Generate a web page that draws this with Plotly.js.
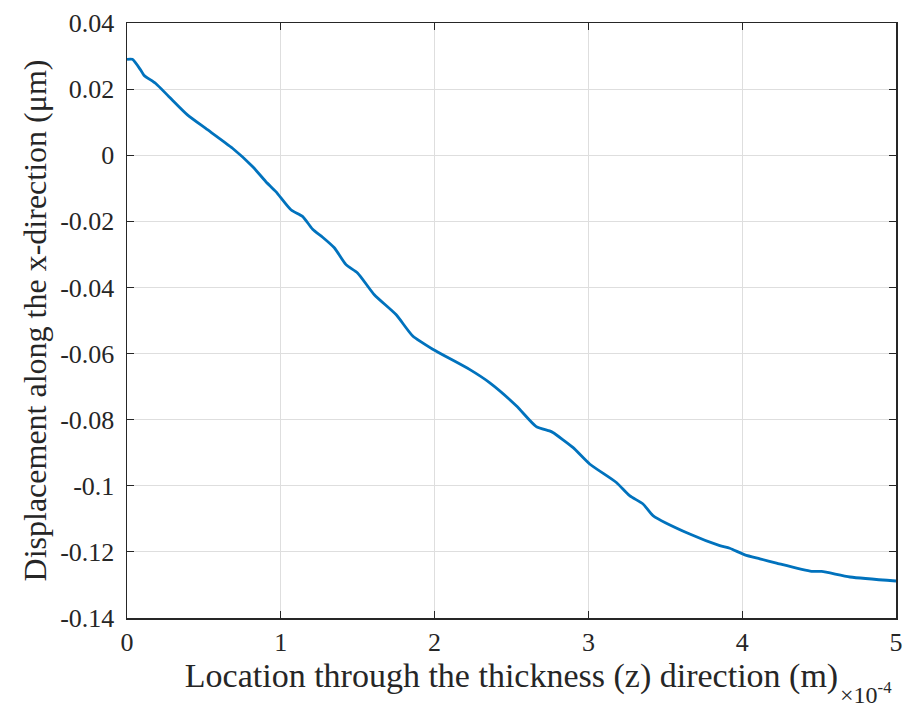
<!DOCTYPE html>
<html>
<head>
<meta charset="utf-8">
<script src="https://cdn.plot.ly/plotly-3.0.1.min.js"></script>
<style>html,body{margin:0;padding:0;background:#fff;}#chart{width:913px;height:709px;}</style>
</head>
<body>
<div id="chart"></div>
<script>
// Location through thickness, in units of 1e-4 m
const zLoc = [0, 0.035, 0.09, 0.11, 0.187, 0.273, 0.393, 0.512, 0.686, 0.816, 0.903, 0.968, 1.066, 1.141, 1.207, 1.272, 1.348, 1.424, 1.499, 1.608, 1.749, 1.858, 1.988, 2.227, 2.357, 2.531, 2.661, 2.747, 2.769, 2.899, 3.008, 3.182, 3.268, 3.355, 3.42, 3.659, 3.854, 3.919, 4.017, 4.115, 4.223, 4.451, 4.516, 4.701, 5.0];
// Displacement along x (um)
const dispX = [0.029, 0.029, 0.0257, 0.0242, 0.0217, 0.0177, 0.0122, 0.0081, 0.0021, -0.0034, -0.008, -0.011, -0.0165, -0.0185, -0.0224, -0.0248, -0.028, -0.0331, -0.0356, -0.0422, -0.0482, -0.0547, -0.0587, -0.0648, -0.0688, -0.0758, -0.0821, -0.0834, -0.0839, -0.0884, -0.0934, -0.099, -0.103, -0.1055, -0.109, -0.1146, -0.1181, -0.1189, -0.1209, -0.1221, -0.1234, -0.1259, -0.1259, -0.1276, -0.1288];
const xTicks = [0, 1, 2, 3, 4, 5];
const yTicks = [0.04, 0.02, 0, -0.02, -0.04, -0.06, -0.08, -0.1, -0.12, -0.14];
const yTickText = ['0.04', '0.02', '0', '-0.02', '-0.04', '-0.06', '-0.08', '-0.1', '-0.12', '-0.14'];

const serif = 'Liberation Serif, Times New Roman, serif';
const trace = {
  x: zLoc, y: dispX, type: 'scatter', mode: 'lines',
  line: {color: '#0072BD', width: 2.8, shape: 'spline', smoothing: 0.6},
  hoverinfo: 'skip'
};
const layout = {
  width: 913, height: 709,
  margin: {l: 127, r: 17, t: 23, b: 91},
  paper_bgcolor: '#fff', plot_bgcolor: '#fff',
  showlegend: false,
  font: {family: serif, color: '#262626'},
  xaxis: {
    range: [0, 5], tickvals: xTicks, ticktext: xTicks.map(String),
    ticks: 'inside', ticklen: 7, tickcolor: '#262626', tickwidth: 1,
    showline: true, linecolor: '#262626', linewidth: 1.5, mirror: 'ticks',
    showgrid: true, gridcolor: '#dedede', gridwidth: 1, zeroline: false,
    tickfont: {family: serif, size: 26, color: '#262626'},
    title: {text: 'Location through the thickness (z) direction (m)', font: {family: serif, size: 34, color: '#262626'}, standoff: 0}
  },
  yaxis: {
    range: [-0.14, 0.04], tickvals: yTicks, ticktext: yTickText,
    ticks: 'inside', ticklen: 7, tickcolor: '#262626', tickwidth: 1,
    ticklabelstandoff: 6,
    showline: true, linecolor: '#262626', linewidth: 1.5, mirror: 'ticks',
    showgrid: true, gridcolor: '#dedede', gridwidth: 1, zeroline: false,
    tickfont: {family: serif, size: 26, color: '#262626'},
    title: {text: 'Displacement along the x-direction (μm)', font: {family: serif, size: 32, color: '#262626'}, standoff: 4}
  },
  annotations: [{
    xref: 'paper', yref: 'paper', x: 0.997, y: -0.098, xanchor: 'right', yanchor: 'top',
    text: '×10<sup>-4</sup>', showarrow: false,
    font: {family: serif, size: 24, color: '#262626'}
  }]
};
Plotly.newPlot('chart', [trace], layout, {displayModeBar: false, staticPlot: true});
</script>
</body>
</html>
